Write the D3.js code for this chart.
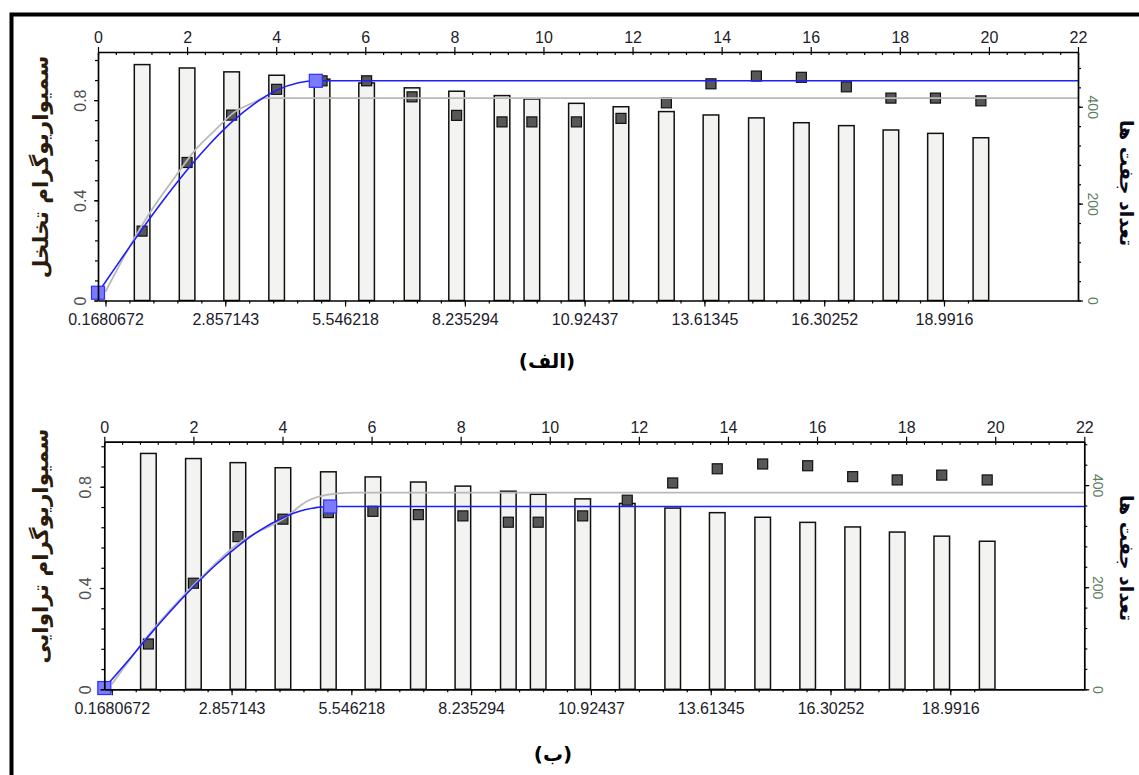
<!DOCTYPE html>
<html><head><meta charset="utf-8">
<script src="https://cdn.jsdelivr.net/npm/d3@7/dist/d3.min.js"></script>
<style>body{margin:0;background:#fff}svg{display:block}</style>
</head><body>
<svg id="c" width="1139" height="775"></svg>
<script>
// ---------- data ----------
const lags = [0.99, 2.0, 3.0, 4.01, 5.03, 6.03, 7.05, 8.05, 9.07, 9.74, 10.74, 11.74, 12.76, 13.76, 14.78, 15.79, 16.8, 17.8, 18.8, 19.82];

const topPairs = [487, 480, 472, 465, 457, 449, 439, 432, 423, 416, 407, 400, 390, 383, 377, 367, 361, 352, 345, 336];
const topGamma = [0.277, 0.551, 0.74, 0.843, 0.877, 0.877, 0.813, 0.739, 0.713, 0.713, 0.713, 0.727, 0.789, 0.865, 0.896, 0.891, 0.853, 0.808, 0.808, 0.797];
const topModelX = [0, 0.5, 1, 1.5, 2, 2.5, 3, 3.5, 4, 4.5, 4.89, 22];
const topModelY = [0.031, 0.160, 0.287, 0.408, 0.521, 0.623, 0.712, 0.784, 0.838, 0.869, 0.877, 0.877];
const topSmoothX = [0.168, 0.83, 1.2, 1.73, 2.18, 2.63, 3.07, 3.45, 3.75, 22];
const topSmoothY = [0.035, 0.253, 0.36, 0.493, 0.60, 0.68, 0.753, 0.787, 0.808, 0.808];
const topKnotsX = [0, 4.89];
const topKnotsY = [0.031, 0.877];

const botPairs = [462, 452, 444, 434, 426, 416, 406, 398, 388, 382, 373, 364, 355, 346, 337, 327, 318, 308, 300, 290];
const botGamma = [0.179, 0.419, 0.603, 0.672, 0.698, 0.703, 0.69, 0.685, 0.66, 0.66, 0.685, 0.747, 0.815, 0.871, 0.89, 0.883, 0.84, 0.827, 0.846, 0.827];
const botModelX = [0, 0.5, 1, 1.5, 2, 2.5, 3, 3.5, 4, 4.5, 5.07, 22];
const botModelY = [0.005, 0.106, 0.211, 0.311, 0.405, 0.491, 0.566, 0.629, 0.677, 0.709, 0.722, 0.722];
const botSmoothX = [0.168, 1, 2, 3, 4.09, 4.54, 4.99, 5.59, 22];
const botSmoothY = [0.02, 0.215, 0.41, 0.575, 0.682, 0.742, 0.768, 0.777, 0.777];
const botKnotsX = [0, 5.07];
const botKnotsY = [0.005, 0.722];

const xTopTicks = [0, 2, 4, 6, 8, 10, 12, 14, 16, 18, 20, 22];
const xBottomLabels = ["0.1680672", "2.857143", "5.546218", "8.235294", "10.92437", "13.61345", "16.30252", "18.9916"];
const leftTicks = [0, 0.4, 0.8];
const rightTicks = [0, 200, 400];

const titleTopLeft = "سمیواریوگرام تخلخل";
const titleBotLeft = "سمیواریوگرام تراوایی";
const titleRight = "تعداد جفت ها";
const captionTop = "(الف)";
const captionBot = "(ب)";

// ---------- drawing ----------
const svg = d3.select("#c");
svg.append("rect").attr("width", 1139).attr("height", 775).attr("fill", "#fff");
svg.append("path").attr("d", "M11.5,800V14.5H1200").attr("fill", "none").attr("stroke", "#000").attr("stroke-width", 4);

const NUMFONT = "'Liberation Sans', Arial, sans-serif";
const FAFONT = "'DejaVu Sans', sans-serif";

function panel(cfg) {
  const g = svg.append("g");
  const x = d3.scaleLinear().domain([0, 22]).range([cfg.left, cfg.right]);
  const yL = d3.scaleLinear().domain([0, cfg.yMax]).range([cfg.bottom, cfg.top]);
  const yR = d3.scaleLinear().domain([0, cfg.nMax]).range([cfg.bottom, cfg.top]);
  const halfBar = 0.175;

  // bars
  g.append("g").selectAll("rect").data(lags).join("rect")
    .attr("x", d => x(d - halfBar))
    .attr("width", d => x(d + halfBar) - x(d - halfBar))
    .attr("y", (d, i) => yR(cfg.pairs[i]))
    .attr("height", (d, i) => yR(0) - yR(cfg.pairs[i]))
    .attr("fill", "#f3f4f1").attr("stroke", "#111").attr("stroke-width", 1.5);

  // experimental points
  g.append("g").selectAll("rect").data(lags).join("rect")
    .attr("x", d => x(d) - 5).attr("y", (d, i) => yL(cfg.gamma[i]) - 5)
    .attr("width", 10).attr("height", 10)
    .attr("fill", "#575757").attr("stroke", "#111").attr("stroke-width", 1.2);

  const line = d3.line().x(d => x(d[0])).y(d => yL(d[1])).curve(d3.curveMonotoneX);
  g.append("path").attr("d", line(cfg.smoothX.map((v, i) => [v, cfg.smoothY[i]])))
    .attr("fill", "none").attr("stroke", "#b9b9b9").attr("stroke-width", 1.8);
  g.append("path").attr("d", line(cfg.modelX.map((v, i) => [v, cfg.modelY[i]])))
    .attr("fill", "none").attr("stroke", "#1e1eff").attr("stroke-width", 1.6);

  g.append("g").selectAll("rect").data(cfg.knotsX).join("rect")
    .attr("x", d => x(d) - 6.5).attr("y", (d, i) => yL(cfg.knotsY[i]) - 6.5)
    .attr("width", 13).attr("height", 13)
    .attr("fill", "#7b7bff").attr("stroke", "#2f2fff").attr("stroke-width", 1.2);

  function style(ax, size, color) {
    ax.select(".domain").attr("stroke", "#000").attr("stroke-width", 1.7);
    ax.selectAll("line").attr("stroke", "#000").attr("stroke-width", 1.2);
    ax.attr("font-family", NUMFONT).attr("font-size", size);
    ax.selectAll("text").attr("fill", color);
  }

  // top axis
  const minorTop = d3.range(0, 22.001, 0.4);
  g.append("g").attr("transform", `translate(0,${cfg.top})`)
    .call(d3.axisTop(x).tickValues(minorTop).tickSize(-3).tickFormat(""))
    .call(a => { a.select(".domain").remove(); a.selectAll("line").attr("stroke", "#000").attr("stroke-width", 1.2); });
  const at = g.append("g").attr("transform", `translate(0,${cfg.top})`)
    .call(d3.axisTop(x).tickValues(xTopTicks).tickSizeInner(5).tickSizeOuter(0).tickPadding(4));
  style(at, 16, "#1c1c2a");

  // bottom axis
  const bPos = xBottomLabels.map(s => parseFloat(s));
  const step = (bPos[1] - bPos[0]) / 5;
  const minorBot = d3.range(0, 37).map(k => bPos[0] + k * step);
  g.append("g").attr("transform", `translate(0,${cfg.bottom})`)
    .call(d3.axisBottom(x).tickValues(minorBot).tickSize(3).tickFormat(""))
    .call(a => { a.select(".domain").remove(); a.selectAll("line").attr("stroke", "#000").attr("stroke-width", 1.2); });
  const ab = g.append("g").attr("transform", `translate(0,${cfg.bottom})`)
    .call(d3.axisBottom(x).tickValues(bPos).tickFormat((d, i) => xBottomLabels[i]).tickSizeInner(6).tickSizeOuter(0).tickPadding(7));
  style(ab, 16, "#1c1c2a");

  // left axis
  g.append("g").attr("transform", `translate(${cfg.left},0)`)
    .call(d3.axisLeft(yL).tickValues(d3.range(0, cfg.yMax, 0.08)).tickSize(3).tickFormat(""))
    .call(a => { a.select(".domain").remove(); a.selectAll("line").attr("stroke", "#000").attr("stroke-width", 1.2); });
  const al = g.append("g").attr("transform", `translate(${cfg.left},0)`)
    .call(d3.axisLeft(yL).tickValues(leftTicks).tickFormat(d3.format("")).tickSizeInner(4).tickSizeOuter(0));
  style(al, 16, "#505050");
  al.selectAll("text").attr("x", null).attr("dy", null).attr("text-anchor", "middle")
    .attr("transform", `translate(${-cfg.leftLabelOff},0) rotate(-90)`);

  // right axis
  g.append("g").attr("transform", `translate(${cfg.right},0)`)
    .call(d3.axisRight(yR).tickValues(d3.range(0, cfg.nMax, 40)).tickSize(3).tickFormat(""))
    .call(a => { a.select(".domain").remove(); a.selectAll("line").attr("stroke", "#000").attr("stroke-width", 1.2); });
  const ar = g.append("g").attr("transform", `translate(${cfg.right},0)`)
    .call(d3.axisRight(yR).tickValues(rightTicks).tickSizeInner(5).tickSizeOuter(0));
  style(ar, 14, "#5e7f5e");
  ar.selectAll("text").attr("x", null).attr("dy", null).attr("text-anchor", "middle")
    .attr("transform", `translate(${cfg.rightLabelOff},0) rotate(90)`);

  // titles
  g.append("text").text(cfg.leftTitle)
    .attr("transform", `translate(${cfg.ltx},${cfg.lty}) rotate(-90)`)
    .attr("text-anchor", "middle").attr("dominant-baseline", "central")
    .attr("font-family", FAFONT).attr("font-weight", "bold").attr("font-size", 21.5)
    .attr("fill", "#2a1b0a");
  g.append("text").text(titleRight)
    .attr("transform", `translate(${cfg.rtx},${cfg.rty}) rotate(90)`)
    .attr("text-anchor", "middle").attr("dominant-baseline", "central")
    .attr("font-family", FAFONT).attr("font-weight", "bold").attr("font-size", 19)
    .attr("fill", "#0a0a18");
  g.append("text").text(cfg.caption)
    .attr("x", cfg.capx).attr("y", cfg.capy)
    .attr("text-anchor", "middle").attr("dominant-baseline", "central")
    .attr("font-family", FAFONT).attr("font-weight", "bold").attr("font-size", 20)
    .attr("fill", "#000");
}

panel({
  left: 98, right: 1078, top: 52, bottom: 300.5, yMax: 0.992, nMax: 513,
  pairs: topPairs, gamma: topGamma, modelX: topModelX, modelY: topModelY,
  smoothX: topSmoothX, smoothY: topSmoothY, knotsX: topKnotsX, knotsY: topKnotsY,
  leftLabelOff: 12, rightLabelOff: 10,
  leftTitle: titleTopLeft, ltx: 40, lty: 167, rtx: 1127, rty: 183,
  caption: captionTop, capx: 547, capy: 361
});
panel({
  left: 104.3, right: 1084.3, top: 441.7, bottom: 689.3, yMax: 0.978, nMax: 485,
  pairs: botPairs, gamma: botGamma, modelX: botModelX, modelY: botModelY,
  smoothX: botSmoothX, smoothY: botSmoothY, knotsX: botKnotsX, knotsY: botKnotsY,
  leftLabelOff: 13.5, rightLabelOff: 9,
  leftTitle: titleBotLeft, ltx: 40, lty: 546, rtx: 1127, rty: 558,
  caption: captionBot, capx: 553, capy: 754
});
</script>
</body></html>
